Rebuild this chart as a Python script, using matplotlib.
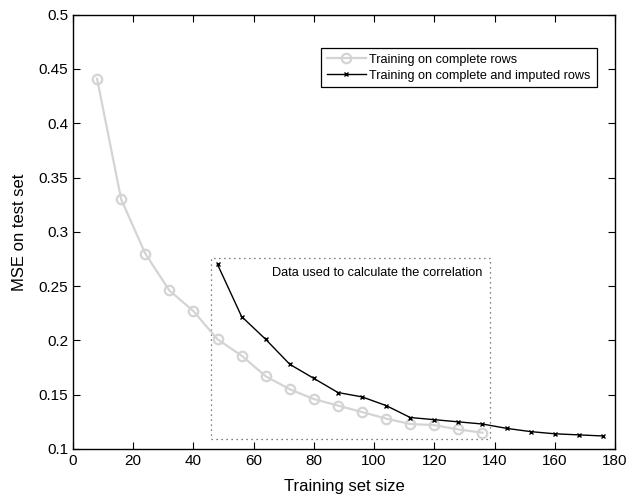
import matplotlib.pyplot as plt
from matplotlib.patches import Rectangle

plt.rcParams['font.family'] = ['Liberation Sans', 'DejaVu Sans']

# training set sizes
x_complete = [8, 16, 24, 32, 40, 48, 56, 64, 72, 80, 88, 96, 104, 112, 120, 128, 136]
x_imputed = [48, 56, 64, 72, 80, 88, 96, 104, 112, 120, 128, 136, 144, 152, 160, 168, 176]

# MSE on test set
mse_complete = [0.441, 0.330, 0.280, 0.246, 0.227, 0.201, 0.186, 0.167, 0.155, 0.146,
                0.140, 0.134, 0.128, 0.123, 0.122, 0.118, 0.115]
mse_imputed = [0.270, 0.222, 0.201, 0.178, 0.165, 0.152, 0.148, 0.140, 0.129, 0.127,
               0.125, 0.123, 0.119, 0.116, 0.114, 0.113, 0.112]

# region of data used for the correlation
box_x = [46, 138.6]
box_y = [0.1095, 0.276]

fig = plt.figure(figsize=(6.39, 5.01), dpi=100)
ax = fig.add_axes([0.1142, 0.1038, 0.8482, 0.8669])

ax.plot(x_complete, mse_complete, color='#d4d4d4', lw=1.6, marker='o', ms=6.8,
        mfc='none', mec='#d4d4d4', mew=1.6, label='Training on complete rows')
ax.plot(x_imputed, mse_imputed, color='black', lw=1, marker='x', ms=3.5,
        mew=1, label='Training on complete and imputed rows')

ax.add_patch(Rectangle((box_x[0], box_y[0]), box_x[1] - box_x[0], box_y[1] - box_y[0],
                       fill=False, ls=(0, (1, 3)), lw=0.9, ec='#555555'))
ax.text(136, 0.262, 'Data used to calculate the correlation', ha='right', va='center',
        fontsize=9.2)

ax.set_xlim(0, 180)
ax.set_ylim(0.1, 0.5)
ax.set_xticks(range(0, 181, 20))
ax.set_yticks([0.1, 0.15, 0.2, 0.25, 0.3, 0.35, 0.4, 0.45, 0.5])
ax.set_yticklabels(['0.1', '0.15', '0.2', '0.25', '0.3', '0.35', '0.4', '0.45', '0.5'])
ax.tick_params(direction='in', top=True, right=True, labelsize=11, length=5, width=0.8)
for s in ax.spines.values():
    s.set_linewidth(1)

ax.set_xlabel('Training set size', fontsize=12, labelpad=8)
ax.set_ylabel('MSE on test set', fontsize=12, labelpad=8)

leg = ax.legend(loc='upper right', bbox_to_anchor=(0.966, 0.923), fontsize=9.1,
                frameon=True, fancybox=False, edgecolor='black', framealpha=1,
                borderpad=0.45, labelspacing=0.3, handlelength=3.1, handletextpad=0.3,
                borderaxespad=0)
leg.get_frame().set_linewidth(0.9)

fig.savefig('out.png', dpi=100)
